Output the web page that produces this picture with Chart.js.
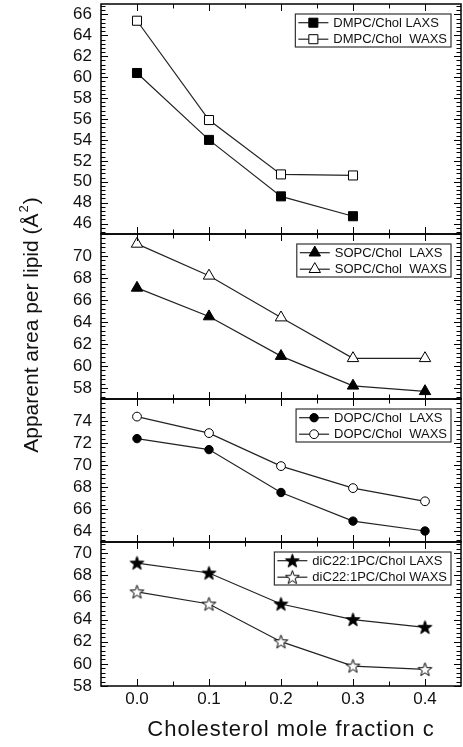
<!DOCTYPE html>
<html>
<head>
<meta charset="utf-8">
<script src="https://cdn.jsdelivr.net/npm/chart.js@4.4.1/dist/chart.umd.min.js"></script>
<style>
    body { margin: 0; background: #fff; }
    #wrap { width: 463px; height: 747px; position: relative; }
</style>
</head>
<body>
<div id="wrap"><canvas id="myChart"></canvas></div>
<script>
// cholesterol mole fraction (shared x)
var cholFrac = [0.0, 0.1, 0.2, 0.3, 0.4]
var xTicks = [0.0, 0.1, 0.2, 0.3, 0.4]

// apparent area per lipid, A^2
var dmpcLaxs = [60.4, 54.0, 48.6, 46.7]
var dmpcWaxs = [65.4, 55.9, 50.7, 50.6]
var sopcLaxs = [67.1, 64.5, 60.9, 58.2, 57.7]
var sopcWaxs = [71.1, 68.2, 64.4, 60.7, 60.7]
var dopcLaxs = [72.4, 71.4, 67.5, 64.9, 64.0]
var dopcWaxs = [74.4, 72.9, 69.9, 67.9, 66.7]
var dic22Laxs = [69.1, 68.2, 65.4, 64.0, 63.3]
var dic22Waxs = [66.5, 65.4, 62.0, 59.8, 59.5]

var seriesLabels = [
    "DMPC/Chol LAXS", "DMPC/Chol  WAXS",
    "SOPC/Chol  LAXS", "SOPC/Chol  WAXS",
    "DOPC/Chol  LAXS", "DOPC/Chol  WAXS",
    "diC22:1PC/Chol LAXS", "diC22:1PC/Chol WAXS"
]

// y ranges and tick labels, top panel first
var panelRanges = [[45, 67], [57, 72], [63, 76], [58, 71]]
var yTicks1 = [46, 48, 50, 52, 54, 56, 58, 60, 62, 64, 66]
var yTicks2 = [58, 60, 62, 64, 66, 68, 70]
var yTicks3 = [64, 66, 68, 70, 72, 74]
var yTicks4 = [58, 60, 62, 64, 66, 68, 70]

var FONT = "'Liberation Sans', Arial, sans-serif"
var INK = "#111"

function toPoints(vals) {
    return vals.map(function (v, i) { return { x: cholFrac[i], y: v } })
}

function makeStar(fill) {
    var c = document.createElement("canvas")
    c.width = 17
    c.height = 17
    var g = c.getContext("2d")
    g.beginPath()
    for (var i = 0; i < 10; i++) {
        var r = i % 2 ? 2.9 : 7.2
        var a = -Math.PI / 2 + i * Math.PI / 5
        var px = 8.5 + r * Math.cos(a), py = 9 + r * Math.sin(a)
        if (i) g.lineTo(px, py); else g.moveTo(px, py)
    }
    g.closePath()
    g.fillStyle = fill
    g.fill()
    g.lineWidth = 1
    g.strokeStyle = "#000"
    g.stroke()
    return c
}

function series(label, vals, axis, style, radius, fill) {
    return {
        label: label,
        data: toPoints(vals),
        yAxisID: axis,
        borderColor: "#222",
        borderWidth: 1.2,
        pointStyle: style,
        pointRadius: radius,
        pointHoverRadius: radius,
        pointBackgroundColor: fill,
        pointBorderColor: "#000",
        pointBorderWidth: 1,
        fill: false,
        tension: 0
    }
}

function noPad(s) {
    s.paddingTop = 0
    s.paddingBottom = 0
    s.paddingLeft = 0
    s.paddingRight = 0
}

function yScale(range, ticksArr, weight, stackWeight) {
    return {
        type: "linear",
        position: "left",
        stack: "panels",
        stackWeight: stackWeight,
        weight: weight,
        min: range[0],
        max: range[1],
        afterBuildTicks: function (s) { s.ticks = ticksArr.map(function (v) { return { value: v } }) },
        afterFit: function (s) { s.width = 101; noPad(s) },
        ticks: { font: { family: FONT, size: 17 }, color: INK, padding: 9, autoSkip: false },
        grid: { display: false, drawTicks: false },
        border: { display: false }
    }
}

// frames, inward ticks on every panel edge, per-panel legends, titles
var decorPlugin = {
    id: "decor",
    afterDatasetsDraw: function (chart) {
        var ctx = chart.ctx
        var area = chart.chartArea
        var xs = chart.scales.x
        var ids = ["y1", "y2", "y3", "y4"]
        ctx.save()
        ctx.strokeStyle = "#000"
        ids.forEach(function (id, p) {
            var s = chart.scales[id]
            var top = s.top, bottom = s.bottom
            ctx.lineWidth = 1.5
            ctx.strokeRect(area.left, top, area.right - area.left, bottom - top)

            ctx.lineWidth = 1
            ctx.beginPath()
            // y ticks, minor every 0.4
            for (var v = Math.floor(s.min / 2) * 2; v <= s.max + 1e-6; v += 0.4) {
                if (v < s.min - 1e-6) continue
                var yy = Math.round(s.getPixelForValue(v)) + 0.5
                var major = Math.abs(v / 2 - Math.round(v / 2)) < 1e-6
                var len = major ? 7 : 4.5
                ctx.moveTo(area.left, yy); ctx.lineTo(area.left + len, yy)
                ctx.moveTo(area.right, yy); ctx.lineTo(area.right - len, yy)
            }
            // x ticks, minor every 0.05
            for (var k = 0; k <= 8; k++) {
                var xx = Math.round(xs.getPixelForValue(k * 0.05)) + 0.5
                var l2 = k % 2 === 0 ? 7 : 4.5
                ctx.moveTo(xx, top); ctx.lineTo(xx, top + l2)
                ctx.moveTo(xx, bottom); ctx.lineTo(xx, bottom - l2)
            }
            ctx.stroke()

            // legend box
            var dsA = chart.data.datasets[p * 2], dsB = chart.data.datasets[p * 2 + 1]
            ctx.font = "13px " + FONT
            var w = Math.max(ctx.measureText(dsA.label).width, ctx.measureText(dsB.label).width)
            var bw = 38 + w + 4, bh = 33
            var bx = area.right - 10 - bw, by = top + 10
            ctx.fillStyle = "#fff"
            ctx.fillRect(bx, by, bw, bh)
            ctx.lineWidth = 1.2
            ctx.strokeStyle = "#333"
            ctx.strokeRect(bx, by, bw, bh)
            ;[dsA, dsB].forEach(function (ds, r) {
                var ry = by + 8.7 + r * 16.5
                ctx.strokeStyle = "#222"
                ctx.lineWidth = 1.2
                ctx.beginPath()
                ctx.moveTo(bx + 3, ry); ctx.lineTo(bx + 33, ry)
                ctx.stroke()
                ctx.fillStyle = ds.pointBackgroundColor
                ctx.strokeStyle = "#000"
                ctx.lineWidth = 1
                Chart.helpers.drawPoint(ctx, {
                    pointStyle: ds.pointStyle, rotation: 0,
                    radius: ds.pointRadius, borderWidth: 1
                }, bx + 18, ry)
                ctx.fillStyle = INK
                ctx.textAlign = "left"
                ctx.textBaseline = "middle"
                ctx.fillText(ds.label, bx + 38, ry + 0.5)
            })
        })
        ctx.restore()
    },
    afterDraw: function (chart) {
        var ctx = chart.ctx
        ctx.save()
        ctx.fillStyle = INK
        ctx.textBaseline = "middle"
        ctx.textAlign = "center"
        ctx.font = "22px " + FONT
        if ("letterSpacing" in ctx) ctx.letterSpacing = "1px"
        ctx.fillText("Cholesterol mole fraction c", 291, 730)
        if ("letterSpacing" in ctx) ctx.letterSpacing = "0px"

        // rotated y title with superscript
        var main = "Apparent area per lipid (Å", sup = "2", tail = ")"
        ctx.font = "21px " + FONT
        var w1 = ctx.measureText(main).width
        var w3 = ctx.measureText(tail).width
        ctx.font = "13px " + FONT
        var w2 = ctx.measureText(sup).width + 2
        var total = w1 + w2 + w3
        ctx.translate(32, 325)
        ctx.rotate(-Math.PI / 2)
        ctx.textAlign = "left"
        ctx.font = "21px " + FONT
        ctx.fillText(main, -total / 2, 0)
        ctx.font = "13px " + FONT
        ctx.fillText(sup, -total / 2 + w1 + 1, -8)
        ctx.font = "21px " + FONT
        ctx.fillText(tail, -total / 2 + w1 + w2, 0)
        ctx.restore()
    }
}

function setup() {
    var starFull = makeStar("#000")
    var starOpen = makeStar("#fff")

    new Chart("myChart", {
        type: "line",
        data: {
            datasets: [
                series(seriesLabels[0], dmpcLaxs, "y1", "rect", 6.4, "#000"),
                series(seriesLabels[1], dmpcWaxs, "y1", "rect", 6.4, "#fff"),
                series(seriesLabels[2], sopcLaxs, "y2", "triangle", 6.6, "#000"),
                series(seriesLabels[3], sopcWaxs, "y2", "triangle", 6.6, "#fff"),
                series(seriesLabels[4], dopcLaxs, "y3", "circle", 4.2, "#000"),
                series(seriesLabels[5], dopcWaxs, "y3", "circle", 4.4, "#fff"),
                series(seriesLabels[6], dic22Laxs, "y4", starFull, 7, "#000"),
                series(seriesLabels[7], dic22Waxs, "y4", starOpen, 7, "#fff")
            ]
        },
        options: {
            responsive: true,
            maintainAspectRatio: false,
            animation: false,
            layout: { autoPadding: false, padding: { top: 4, right: 2, left: 0, bottom: 0 } },
            plugins: { legend: { display: false }, tooltip: { enabled: false } },
            scales: {
                x: {
                    type: "linear",
                    min: -0.05,
                    max: 0.45,
                    afterBuildTicks: function (s) { s.ticks = xTicks.map(function (v) { return { value: v } }) },
                    afterFit: function (s) { s.height = 61; noPad(s) },
                    ticks: {
                        font: { family: FONT, size: 17 }, color: INK, padding: 3,
                        autoSkip: false, maxRotation: 0,
                        callback: function (v) { return Number(v).toFixed(1) }
                    },
                    grid: { display: false, drawTicks: false },
                    border: { display: false }
                },
                y1: yScale(panelRanges[0], yTicks1, 4, 230),
                y2: yScale(panelRanges[1], yTicks2, 3, 165),
                y3: yScale(panelRanges[2], yTicks3, 2, 143),
                y4: yScale(panelRanges[3], yTicks4, 1, 144)
            }
        },
        plugins: [decorPlugin]
    })
}

setup()
</script>
</body>
</html>
